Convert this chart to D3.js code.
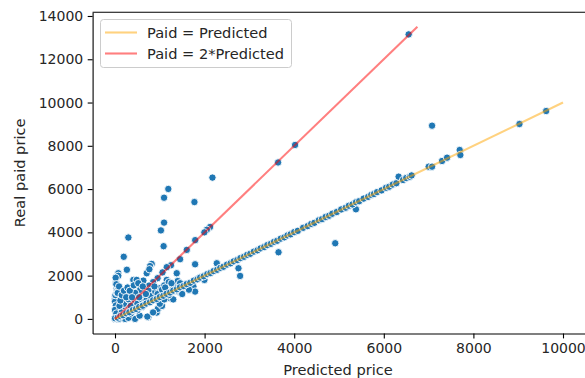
<!DOCTYPE html>
<html>
<head>
<meta charset="utf-8">
<script src="https://cdn.jsdelivr.net/npm/d3@7"></script>
<style>
  html, body { margin: 0; padding: 0; background: #fff; }
  svg { display: block; font-family: "DejaVu Sans", sans-serif; }
</style>
</head>
<body>
<svg id="chart" width="585" height="378"></svg>
<script>
// ---- data ----
const predicted = [
  // near the Paid = 2*Predicted line
  6555, 4020, 3640, 2123, 2050, 1995, 1790, 1602, 1453, 1250, 1155, 1060, 950, 850, 760, 650, 560, 470, 380, 280, 190, 100, 50,
  // outliers above
  1190, 1095, 1773, 2175, 1095, 1025, 298, 1085, 195, 265, 819, 782, 74, 74, 708, 1378, 1155, 409, 633, 37, 1006, 559, 372, 0, 0, 20, 0, 484, 857, 767, 484,
  0, 30, 10, 45, 25, 15, 60, 40,
  // cloud between lines
  150, 200, 300, 350, 450, 500, 600, 650, 700, 750, 800, 900, 950, 1050, 1100, 1200, 1300, 1400, 100, 120, 60, 30, 90, 150, 200, 280, 330, 420, 520, 620, 250, 380, 540, 690, 880, 1120, 1260,
  // below the diagonal
  1229, 1475, 1996, 2756, 2793, 3650, 4916, 5378, 1750, 1788, 1453, 968, 931, 745, 722, 447, 223, 149, 633, 954, 80, 300, 550, 850, 1050, 1300, 1500, 1650, 1000, 1100, 1200, 1350, 500, 600, 350, 250,
  // above diagonal, mid
  1788, 2272, 1453, 7077,
  // along Paid = Predicted
  0, 60, 120, 180, 250, 320, 400, 470, 540, 620, 700, 780, 850, 930, 1000, 1080, 1150, 1230, 1300, 1380, 1450, 1530, 1600, 1680, 1760, 1840, 1900, 1980, 2060, 2130, 2200, 2280, 2350, 2420, 2500, 2580, 2650, 2730, 2800, 2880, 2950, 3020, 3100, 3180, 3250, 3330, 3400, 3480, 3550, 3620, 3700, 3780, 3850, 3920, 4000, 4080, 4200, 4300, 4380, 4450, 4550, 4620, 4700, 4780, 4850, 4950, 5050, 5150, 5220, 5300, 5380, 5450, 5550, 5650, 5720, 5780, 5850, 5950, 6050, 6120, 6200, 6280, 6331, 6430, 6500, 6580, 6620, 7002, 7077, 7300, 7412, 7694, 7709, 9028, 9624
];
const paid = [
  13150, 8040, 7230, 4250, 4120, 4000, 3640, 3190, 2760, 2480, 2390, 2150, 1880, 1700, 1540, 1320, 1120, 950, 760, 560, 390, 200, 110,
  6005, 5600, 5400, 6530, 4450, 4090, 3760, 3360, 2870, 2270, 2540, 2440, 2110, 1990, 2110, 2110, 1800, 1800, 1770, 1420, 1420, 1340, 1190, 956, 800, 620, 416, 956, 956, 2295, 1801,
  0, 250, 1100, 1300, 1650, 1900, 1500, 1200,
  500, 700, 900, 600, 1200, 700, 900, 1100, 850, 1300, 1050, 1250, 1150, 1350, 1550, 1700, 1500, 1750, 600, 850, 1200, 1600, 1500, 1100, 1300, 1450, 1300, 1550, 1650, 1500, 1000, 1000, 1000, 1150, 1500, 1450, 1650,
  956, 1262, 1801, 2340, 1986, 3080, 3496, 5066, 1494, 1262, 1232, 494, 291, 78, 106, 0, 0, 291, 647, 462, 0, 50, 150, 300, 600, 900, 1150, 1350, 700, 900, 1100, 1300, 400, 550, 250, 300,
  2525, 2571, 1648, 8930,
  30, 60, 130, 170, 260, 310, 410, 460, 550, 610, 710, 770, 860, 920, 1010, 1070, 1160, 1220, 1310, 1370, 1460, 1520, 1610, 1670, 1770, 1830, 1910, 1970, 2070, 2120, 2210, 2270, 2360, 2410, 2510, 2570, 2660, 2720, 2810, 2870, 2960, 3010, 3110, 3170, 3260, 3320, 3410, 3470, 3560, 3610, 3710, 3770, 3860, 3910, 4010, 4070, 4210, 4290, 4390, 4440, 4560, 4610, 4710, 4770, 4860, 4940, 5060, 5140, 5230, 5290, 5390, 5440, 5560, 5640, 5730, 5770, 5860, 5940, 6060, 6110, 6210, 6270, 6574, 6420, 6510, 6570, 6630, 7035, 7035, 7298, 7451, 7806, 7575, 9007, 9607
];
const xTicks = [0, 2000, 4000, 6000, 8000, 10000];
const yTicks = [0, 2000, 4000, 6000, 8000, 10000, 12000, 14000];
const xDomain = [-500, 10500];
const yDomain = [-675, 14175];
const lineEqual = { label: "Paid = Predicted", x: [0, 10000], y: [0, 10000] };
const lineDouble = { label: "Paid = 2*Predicted", x: [0, 6750], y: [0, 13500] };
const xLabel = "Predicted price";
const yLabel = "Real paid price";

// ---- layout ----
const L = 92.6, R = 585.4, T = 12.2, B = 333.5;
const svg = d3.select("#chart");
const x = d3.scaleLinear().domain(xDomain).range([L, R]);
const y = d3.scaleLinear().domain(yDomain).range([B, T]);
const FS = 14, FS2 = 14.6;

// points
svg.append("g").selectAll("circle")
  .data(predicted.map((p, i) => [p, paid[i]]))
  .join("circle")
  .attr("cx", d => x(d[0]))
  .attr("cy", d => y(d[1]))
  .attr("r", 3.7)
  .attr("fill", "#1f77b4")
  .attr("stroke", "#ffffff")
  .attr("stroke-width", 0.9);

// reference lines
const lineGen = d3.line().x(d => x(d[0])).y(d => y(d[1]));
svg.append("path")
  .attr("d", lineGen(lineEqual.x.map((v, i) => [v, lineEqual.y[i]])))
  .attr("stroke", "orange").attr("stroke-opacity", 0.5).attr("stroke-width", 2.1).attr("fill", "none");
svg.append("path")
  .attr("d", lineGen(lineDouble.x.map((v, i) => [v, lineDouble.y[i]])))
  .attr("stroke", "red").attr("stroke-opacity", 0.5).attr("stroke-width", 2.1).attr("fill", "none");

// axes
const xAxis = svg.append("g").attr("transform", `translate(0,${B})`)
  .call(d3.axisBottom(x).tickValues(xTicks).tickFormat(d3.format("d")).tickSizeInner(4.9).tickSizeOuter(0).tickPadding(4.5));
const yAxis = svg.append("g").attr("transform", `translate(${L},0)`)
  .call(d3.axisLeft(y).tickValues(yTicks).tickFormat(d3.format("d")).tickSizeInner(4.9).tickSizeOuter(0).tickPadding(4.5));
[xAxis, yAxis].forEach(g => {
  g.select(".domain").attr("stroke", "#000").attr("stroke-width", 1.1);
  g.selectAll(".tick line").attr("stroke", "#000").attr("stroke-width", 1.1);
  g.selectAll(".tick text").attr("font-size", FS).attr("fill", "#262626")
    .attr("font-family", "DejaVu Sans, sans-serif");
});
// top spine
svg.append("line").attr("x1", L).attr("x2", R).attr("y1", T).attr("y2", T)
  .attr("stroke", "#000").attr("stroke-width", 1.1);

// axis labels
svg.append("text").attr("x", 338).attr("y", 375)
  .attr("text-anchor", "middle").attr("font-size", FS2).attr("fill", "#262626").text(xLabel);
svg.append("text").attr("transform", `translate(24.5,${(T + B) / 2}) rotate(-90)`)
  .attr("text-anchor", "middle").attr("font-size", FS2).attr("fill", "#262626").text(yLabel);

// legend
const lg = svg.append("g");
lg.append("rect").attr("x", 100.5).attr("y", 19.5).attr("width", 191).attr("height", 48)
  .attr("rx", 3).attr("fill", "#fff").attr("fill-opacity", 0.8).attr("stroke", "#cccccc").attr("stroke-width", 1);
[lineEqual, lineDouble].forEach((s, i) => {
  const cy = 32.5 + i * 21;
  lg.append("line").attr("x1", 105).attr("x2", 137).attr("y1", cy).attr("y2", cy)
    .attr("stroke", i === 0 ? "orange" : "red").attr("stroke-opacity", 0.5).attr("stroke-width", 2.1);
  lg.append("text").attr("x", 147).attr("y", cy + 5).attr("font-size", FS2).attr("fill", "#262626").text(s.label);
});
</script>
</body>
</html>
